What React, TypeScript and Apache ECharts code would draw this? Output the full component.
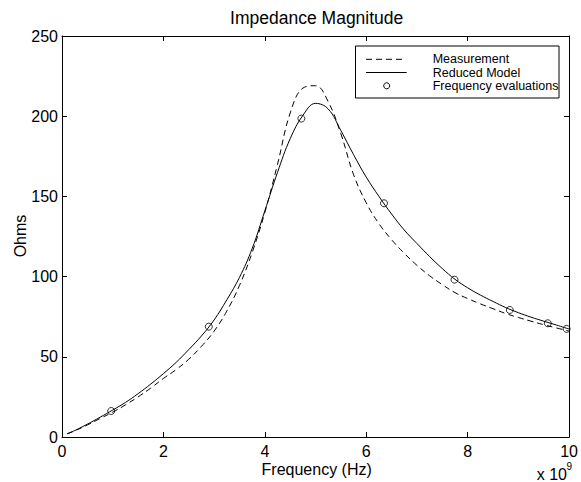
import React, { useEffect, useRef } from 'react';
import * as echarts from 'echarts';

// Frequency in units of 1e9 Hz, impedance magnitude in Ohms
const freq = [0.1, 0.25, 0.5, 0.75, 1, 1.25, 1.5, 1.75, 2, 2.25, 2.5, 2.75, 3, 3.25, 3.5, 3.75, 4, 4.25, 4.5, 4.75, 5, 5.25, 5.5, 5.75, 6, 6.25, 6.5, 6.75, 7, 7.25, 7.5, 7.75, 8, 8.25, 8.5, 8.75, 9, 9.25, 9.5, 9.75, 10];
const measurementOhms = [2, 3.8, 7.5, 11.5, 15.5, 20, 25, 30.5, 36.5, 42, 48.5, 56.5, 66, 78.5, 94.5, 115, 140, 170, 202, 217.5, 219, 209, 189, 163.5, 146, 133, 123, 114.5, 107, 100.5, 95, 90, 86.3, 83, 80, 77, 74.5, 72.2, 70, 68, 66];
const reducedModelOhms = [2, 4, 8, 12.3, 16.8, 21.5, 27, 33, 39.5, 46.5, 54.5, 63, 73, 85.5, 99.5, 117.5, 141, 165, 186, 200.5, 208, 204.5, 191, 176, 162, 150, 139, 129, 120.6, 112.5, 105, 98.3, 93, 88.5, 84.5, 80.7, 77.5, 74.7, 72.2, 69.8, 67.3];

const evalFreq = [0.97, 2.895, 4.72, 6.35, 7.74, 8.83, 9.58, 9.95];
const evalOhms = [16.2, 68.8, 198.5, 145.7, 98.1, 79.2, 70.9, 67.4];

const xTicks = { min: 0, max: 10, interval: 2 };
const yTicks = { min: 0, max: 250, interval: 50 };

const legendNames = ['Measurement', 'Reduced Model', 'Frequency evaluations'];
const titleText = 'Impedance Magnitude';
const xName = 'Frequency (Hz)';
const yName = 'Ohms';

const FONT = '"Liberation Sans", Arial, Helvetica, sans-serif';

const pairs = (xs: number[], ys: number[]) => xs.map((x, i) => [x, ys[i]]);

export default function App() {
  const ref = useRef<HTMLDivElement>(null);
  useEffect(() => {
    const chart = echarts.init(ref.current!, null, { renderer: 'svg' });
    const axisLine = { show: true, onZero: false, lineStyle: { color: '#000', width: 1 } };
    const axisTick = { show: true, inside: true, length: 5, lineStyle: { color: '#000', width: 1 } };
    chart.setOption({
      animation: false,
      backgroundColor: '#fff',
      grid: { left: 62, top: 36, width: 510, height: 401, containLabel: false },
      xAxis: [
        {
          type: 'value', ...xTicks, position: 'bottom',
          axisLine, axisTick,
          axisLabel: { color: '#000', fontSize: 16, fontFamily: FONT, margin: 6 },
          splitLine: { show: false },
        },
        {
          type: 'value', ...xTicks, position: 'top',
          axisLine, axisTick,
          axisLabel: { show: false },
          splitLine: { show: false },
        },
      ],
      yAxis: [
        {
          type: 'value', ...yTicks, position: 'left',
          axisLine, axisTick,
          axisLabel: { color: '#000', fontSize: 16, fontFamily: FONT, margin: 4 },
          splitLine: { show: false },
        },
        {
          type: 'value', ...yTicks, position: 'right',
          axisLine, axisTick,
          axisLabel: { show: false },
          splitLine: { show: false },
        },
      ],
      series: [
        {
          name: legendNames[0], type: 'line', data: pairs(freq, measurementOhms),
          showSymbol: false, symbol: 'none', smooth: 0.4,
          lineStyle: { color: '#000', width: 1, type: [6, 4] },
        },
        {
          name: legendNames[1], type: 'line', data: pairs(freq, reducedModelOhms),
          showSymbol: false, symbol: 'none', smooth: 0.4,
          lineStyle: { color: '#000', width: 1 },
        },
        {
          name: legendNames[2], type: 'scatter', data: pairs(evalFreq, evalOhms),
          symbol: 'circle', symbolSize: 7,
          itemStyle: { color: 'rgba(0,0,0,0)', borderColor: '#000', borderWidth: 1 },
        },
      ],
      graphic: [
        { type: 'text', x: 316.7, y: 17.5, style: { text: titleText, fill: '#000', font: `17.5px ${FONT}`, textAlign: 'center', textVerticalAlign: 'middle' } },
        { type: 'text', x: 316.7, y: 469, style: { text: xName, fill: '#000', font: `16px ${FONT}`, textAlign: 'center', textVerticalAlign: 'middle' } },
        { type: 'text', x: 20, y: 236, rotation: Math.PI / 2, style: { text: yName, fill: '#000', font: `16px ${FONT}`, textAlign: 'center', textVerticalAlign: 'middle' } },
        { type: 'text', x: 536.7, y: 474.5, style: { text: 'x 10', fill: '#000', font: `16px ${FONT}`, textAlign: 'left', textVerticalAlign: 'middle' } },
        { type: 'text', x: 566.5, y: 466, style: { text: '9', fill: '#000', font: `10px ${FONT}`, textAlign: 'left', textVerticalAlign: 'middle' } },
        { type: 'rect', shape: { x: 355.5, y: 46, width: 203.5, height: 52 }, style: { fill: '#fff', stroke: '#000', lineWidth: 1 }, z: 10 },
        { type: 'line', shape: { x1: 366, y1: 59.3, x2: 404, y2: 59.3 }, style: { stroke: '#000', lineWidth: 1, lineDash: [6, 4] }, z: 11 },
        { type: 'line', shape: { x1: 366, y1: 72.5, x2: 406.7, y2: 72.5 }, style: { stroke: '#000', lineWidth: 1 }, z: 11 },
        { type: 'circle', shape: { cx: 386.7, cy: 85.8, r: 3 }, style: { fill: 'none', stroke: '#000', lineWidth: 1 }, z: 11 },
        { type: 'text', x: 432.7, y: 59.2, z: 11, style: { text: legendNames[0], fill: '#000', font: `12.5px ${FONT}`, textAlign: 'left', textVerticalAlign: 'middle' } },
        { type: 'text', x: 432.7, y: 72.5, z: 11, style: { text: legendNames[1], fill: '#000', font: `12.5px ${FONT}`, textAlign: 'left', textVerticalAlign: 'middle' } },
        { type: 'text', x: 432.7, y: 85.8, z: 11, style: { text: legendNames[2], fill: '#000', font: `12.5px ${FONT}`, textAlign: 'left', textVerticalAlign: 'middle' } },
      ],
    });
    return () => chart.dispose();
  }, []);
  return (
    <div
      ref={ref}
      style={{ position: 'absolute', left: 0, top: 0, width: 581, height: 482, background: '#fff' }}
    />
  );
}
